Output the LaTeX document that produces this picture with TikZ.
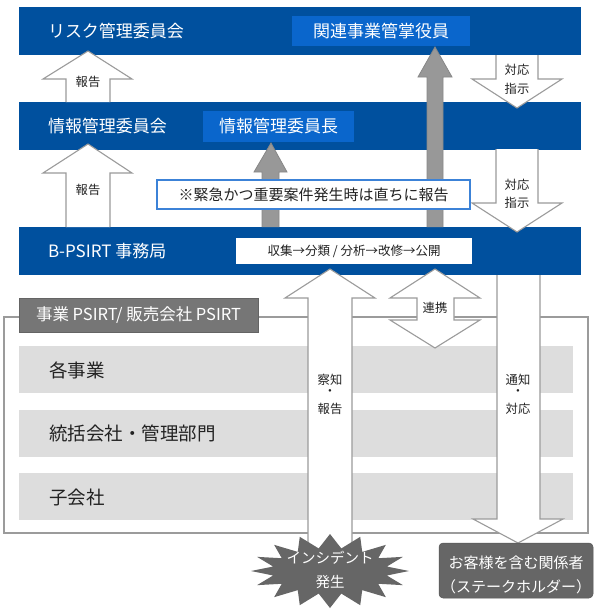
\documentclass[tikz,border=0pt]{standalone}
\usepackage{fontspec}
\setmainfont{Noto Sans CJK JP}
\definecolor{bandblue}{RGB}{0,80,158}
\definecolor{lblue}{RGB}{10,102,204}
\definecolor{boxline}{RGB}{60,130,215}
\definecolor{arrline}{RGB}{155,155,155}
\definecolor{garrow}{RGB}{152,152,152}
\definecolor{garrowline}{RGB}{135,135,135}
\definecolor{rowgray}{RGB}{221,221,221}
\definecolor{labgray}{RGB}{118,118,118}
\definecolor{darkg}{RGB}{102,102,102}
\definecolor{txt}{RGB}{34,34,34}
\newcommand{\whitearrow}[1]{\fill[white] #1 -- cycle; \draw[arrline,line width=1.1pt,line join=miter] #1;}
\newcommand{\grayarrow}[1]{\fill[garrow] #1 -- cycle; \draw[garrowline,line width=0.8pt] #1;}
\begin{document}
\begin{tikzpicture}[x=1pt,y=-1pt,
  every node/.style={inner sep=0pt,outer sep=0pt},
  band/.style={fill=bandblue,anchor=north west,minimum width=562pt,minimum height=48pt},
  lbbox/.style={fill=lblue,anchor=north west},
  lbtxt/.style={text=white,font=\fontsize{17}{20}\selectfont},
  bandtxt/.style={text=white,anchor=west,font=\fontsize{17}{20}\selectfont},
  alabel/.style={text=txt,font=\fontsize{12.3}{14}\selectfont},
  rowbox/.style={fill=rowgray,anchor=north west,minimum width=554pt,minimum height=47pt},
  rowtxt/.style={text=txt,anchor=west,font=\fontsize{18.5}{21}\selectfont}]
\useasboundingbox (0,0) rectangle (600,611);
\fill[white] (0,0) rectangle (600,611);

% outer frame of PSIRT group
\draw[arrline,line width=1.3pt] (4,317) rectangle (588,533);
% rows
\node[rowbox] (r1) at (19,346) {};
\node[rowbox] (r2) at (19,410) {};
\node[rowbox] (r3) at (19,473) {};
\node[rowtxt] (t1) at (49,370) {各事業};
\node[rowtxt] (t2) at (49,433) {統括会社・管理部門};
\node[rowtxt] (t3) at (49,497) {子会社};
% group label
\node[fill=labgray,draw=labgray!85!black,line width=0.6pt,anchor=north west,minimum width=239pt,minimum height=34pt] (lab) at (19,298) {};
\node[text=white,font=\fontsize{16.5}{19}\selectfont] (labt) at (lab.center) {事業 PSIRT/ 販売会社 PSIRT};

% bands
\node[band] (b1) at (19,7) {};
\node[band] (b2) at (19,102) {};
\node[band] (b3) at (19,227) {};
\node[bandtxt] (b1t) at (48,31) {リスク管理委員会};
\node[bandtxt] (b2t) at (48,126) {情報管理委員会};
\node[bandtxt] (b3t) at (48,251) {B-PSIRT 事務局};
\node[lbbox,minimum width=178pt,minimum height=30pt] (exec) at (292,16) {};
\node[lbtxt] (exect) at (exec.center) {関連事業管掌役員};
\node[lbbox,minimum width=151pt,minimum height=31pt] (chair) at (203,111) {};
\node[lbtxt] (chairt) at (chair.center) {情報管理委員長};
\node[fill=white,anchor=north west,minimum width=236pt,minimum height=26pt] (proc) at (236,238) {};
\node[text=txt,font=\fontsize{12.5}{14}\selectfont] (proct) at (proc.center) {収集→分類 / 分析→改修→公開};

% white arrows: reports up on the left
\whitearrow{(66,102) -- (66,79) -- (43,79) -- (88,51) -- (132,79) -- (110,79) -- (110,102)}
\node[alabel] (rep1) at (88,82) {報告};
\whitearrow{(66,227) -- (66,173) -- (43,173) -- (88,144) -- (132,173) -- (110,173) -- (110,227)}
\node[alabel] (rep2) at (88,190) {報告};
% instructions down on the right
\whitearrow{(496,55) -- (496,79) -- (472,79) -- (517,108) -- (562,79) -- (538,79) -- (538,55)}
\node[alabel] (ins1a) at (517,70) {対応};
\node[alabel] (ins1b) at (517,89) {指示};
\whitearrow{(496,149) -- (496,203) -- (472,203) -- (517,232) -- (562,203) -- (538,203) -- (538,149)}
\node[alabel] (ins2a) at (517,185) {対応};
\node[alabel] (ins2b) at (517,203) {指示};

% gray escalation arrows
\grayarrow{(427,227) -- (427,77) -- (418,77) -- (435,47) -- (452,77) -- (443,77) -- (443,227)}
\grayarrow{(262,227) -- (262,172) -- (254,172) -- (271,143) -- (287,172) -- (279,172) -- (279,227)}
\node[fill=white,draw=boxline,line width=1.2pt,anchor=north west,minimum width=313pt,minimum height=29pt] (urg) at (157,180) {};
\node[text=txt,font=\fontsize{15}{18}\selectfont] (urgt) at (urg.center) {※緊急かつ重要案件発生時は直ちに報告};

% detection / report arrow
\whitearrow{(308,545) -- (308,298) -- (285,298) -- (330,269) -- (375,298) -- (352,298) -- (352,545)}
\node[alabel] (det1) at (330,380) {察知};
\node[alabel] (det2) at (330,393) {・};
\node[alabel] (det3) at (330,409) {報告};
% cooperation double arrow
\fill[white] (435,269) -- (480,298) -- (454,298) -- (454,320) -- (480,320) -- (435,348) -- (390,320) -- (417,320) -- (417,298) -- (390,298) -- cycle;
\draw[arrline,line width=1.1pt] (435,269) -- (480,298) -- (454,298) -- (454,320) -- (480,320) -- (435,348) -- (390,320) -- (417,320) -- (417,298) -- (390,298) -- cycle;
\node[alabel] (coop) at (435,308) {連携};
% notify arrow
\whitearrow{(497,275) -- (497,519) -- (473,519) -- (518,543) -- (563,519) -- (540,519) -- (540,275)}
\node[alabel] (not1) at (518,380) {通知};
\node[alabel] (not2) at (518,393) {・};
\node[alabel] (not3) at (518,409) {対応};

% incident starburst
\fill[darkg] plot[variable=\t, samples at={0,...,31}] ({330+ifthenelse(mod(\t,2)==0,79,58)*cos(\t*11.25)}, {571+ifthenelse(mod(\t,2)==0,37,23)*sin(\t*11.25)}) -- cycle;
\node[text=white,font=\fontsize{14.5}{17}\selectfont] (inc1) at (330,558) {インシデント};
\node[text=white,font=\fontsize{14.5}{17}\selectfont] (inc2) at (330,582) {発生};

% stakeholders box
\node[fill=darkg,draw=darkg!85!black,line width=0.5pt,rounded corners=4pt,anchor=north west,minimum width=154pt,minimum height=55pt] (cust) at (439,543) {};
\node[text=white,font=\fontsize{15}{18}\selectfont] (cust1) at (516,563) {お客様を含む関係者};
\node[text=white,font=\fontsize{15}{18}\selectfont] (cust2) at (516,587) {（ステークホルダー）};
\end{tikzpicture}
\end{document}
